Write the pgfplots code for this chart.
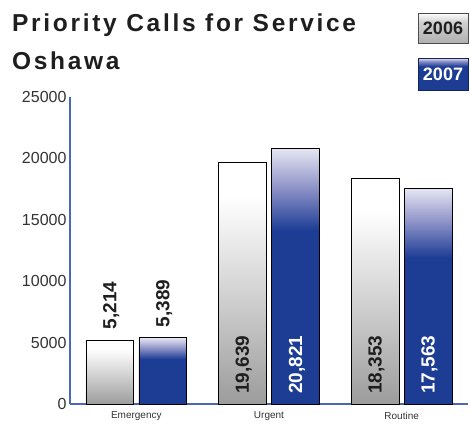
\documentclass[border=0pt]{standalone}
\usepackage{fontspec}
\setmainfont{Liberation Sans}
\newfontfamily\titlefont[LetterSpace=11]{Liberation Sans}
\usepackage{pgfplots}
\pgfplotsset{compat=1.18}
\definecolor{blueD}{HTML}{1D3D95}
\definecolor{blueM}{HTML}{8A90C6}
\definecolor{blueL}{HTML}{E6E6F2}
\definecolor{grayB}{HTML}{9C9C9C}
\definecolor{grayM}{HTML}{D0D0D0}
\definecolor{axisblue}{HTML}{4A68B4}
\definecolor{tickc}{HTML}{333333}
\definecolor{titlec}{HTML}{1E1E1E}
\pgfdeclareverticalshading{bar06}{100bp}{color(0bp)=(grayB); color(25bp)=(grayB); color(47bp)=(grayM); color(68bp)=(white); color(100bp)=(white)}
\pgfdeclareverticalshading{bar07}{100bp}{color(0bp)=(blueD); color(25bp)=(blueD); color(59bp)=(blueD); color(67bp)=(blueM); color(75bp)=(blueL); color(100bp)=(blueL)}
\pgfdeclareverticalshading{leg06}{100bp}{color(0bp)=(grayB); color(25bp)=(grayB!80); color(60bp)=(grayM); color(75bp)=(white); color(100bp)=(white)}
\pgfdeclareverticalshading{leg07}{100bp}{color(0bp)=(blueD); color(25bp)=(blueD); color(62bp)=(blueD); color(70bp)=(blueM); color(75bp)=(blueL); color(100bp)=(blueL)}
\begin{document}
\begin{tikzpicture}[x=1pt,y=1pt]
\useasboundingbox (0,0) rectangle (470,426);
\node[anchor=base west, inner sep=0, text=titlec, font=\titlefont\bfseries\fontsize{24.5}{24.5}\selectfont] at (12,394) {Priority Calls for Service};
\node[anchor=base west, inner sep=0, text=titlec, font=\titlefont\bfseries\fontsize{24.5}{24.5}\selectfont] at (12,356) {Oshawa};
\shadedraw[shading=leg06, draw=gray!60!black, line width=0.6pt] (418,383) rectangle (468,413);
\node[font=\bfseries\fontsize{18}{18}\selectfont, text=titlec] at (443,398) {2006};
\shadedraw[shading=leg07, draw=blueD!60!black, line width=0.6pt] (418,336) rectangle (468,368);
\node[font=\bfseries\fontsize{18}{18}\selectfont, text=white] at (443,352) {2007};
\begin{axis}[at={(70pt,22pt)}, anchor=south west, scale only axis,
  width=398pt, height=307pt,
  xmin=-0.5, xmax=2.5, ymin=0, ymax=25000,
  ytick={0,5000,10000,15000,20000,25000},
  xtick={0,1,2}, xticklabels={Emergency,Urgent,Routine},
  axis lines*=left,
  axis line style={axisblue, line width=1.2pt},
  major tick length=0pt,
  scaled y ticks=false,
  /pgf/number format/assume math mode=true,
  /pgf/number format/set thousands separator={},
  yticklabel style={font=\fontsize{16}{16}\selectfont, text=tickc},
  xticklabel style={font=\fontsize{10}{10}\selectfont, text=tickc, yshift=-4.5pt},
  clip=false,
  b06/.style={ybar, bar width=0.36, bar shift=-0.2, draw=black, line width=0.8pt, shading=bar06},
  b07/.style={ybar, bar width=0.36, bar shift=0.2, draw=black, line width=0.8pt, shading=bar07}]
% 2006
\addplot[b06] coordinates {(0,5214)};
\addplot[b06] coordinates {(1,19639)};
\addplot[b06] coordinates {(2,18353)};
% 2007
\addplot[b07] coordinates {(0,5389)};
\addplot[b07] coordinates {(1,20821)};
\addplot[b07] coordinates {(2,17563)};
\begin{scope}[every node/.style={rotate=90, anchor=west, inner sep=0pt, font=\bfseries\fontsize{19}{19}\selectfont}]
\node[text=titlec] at (axis cs:-0.19,6080) {5,214};
\node[text=titlec] at (axis cs:0.21,6250) {5,389};
\node[text=titlec] at (axis cs:0.81,820) {19,639};
\node[text=white] at (axis cs:1.21,820) {20,821};
\node[text=titlec] at (axis cs:1.81,820) {18,353};
\node[text=white] at (axis cs:2.21,820) {17,563};
\end{scope}
\end{axis}
\end{tikzpicture}
\end{document}
